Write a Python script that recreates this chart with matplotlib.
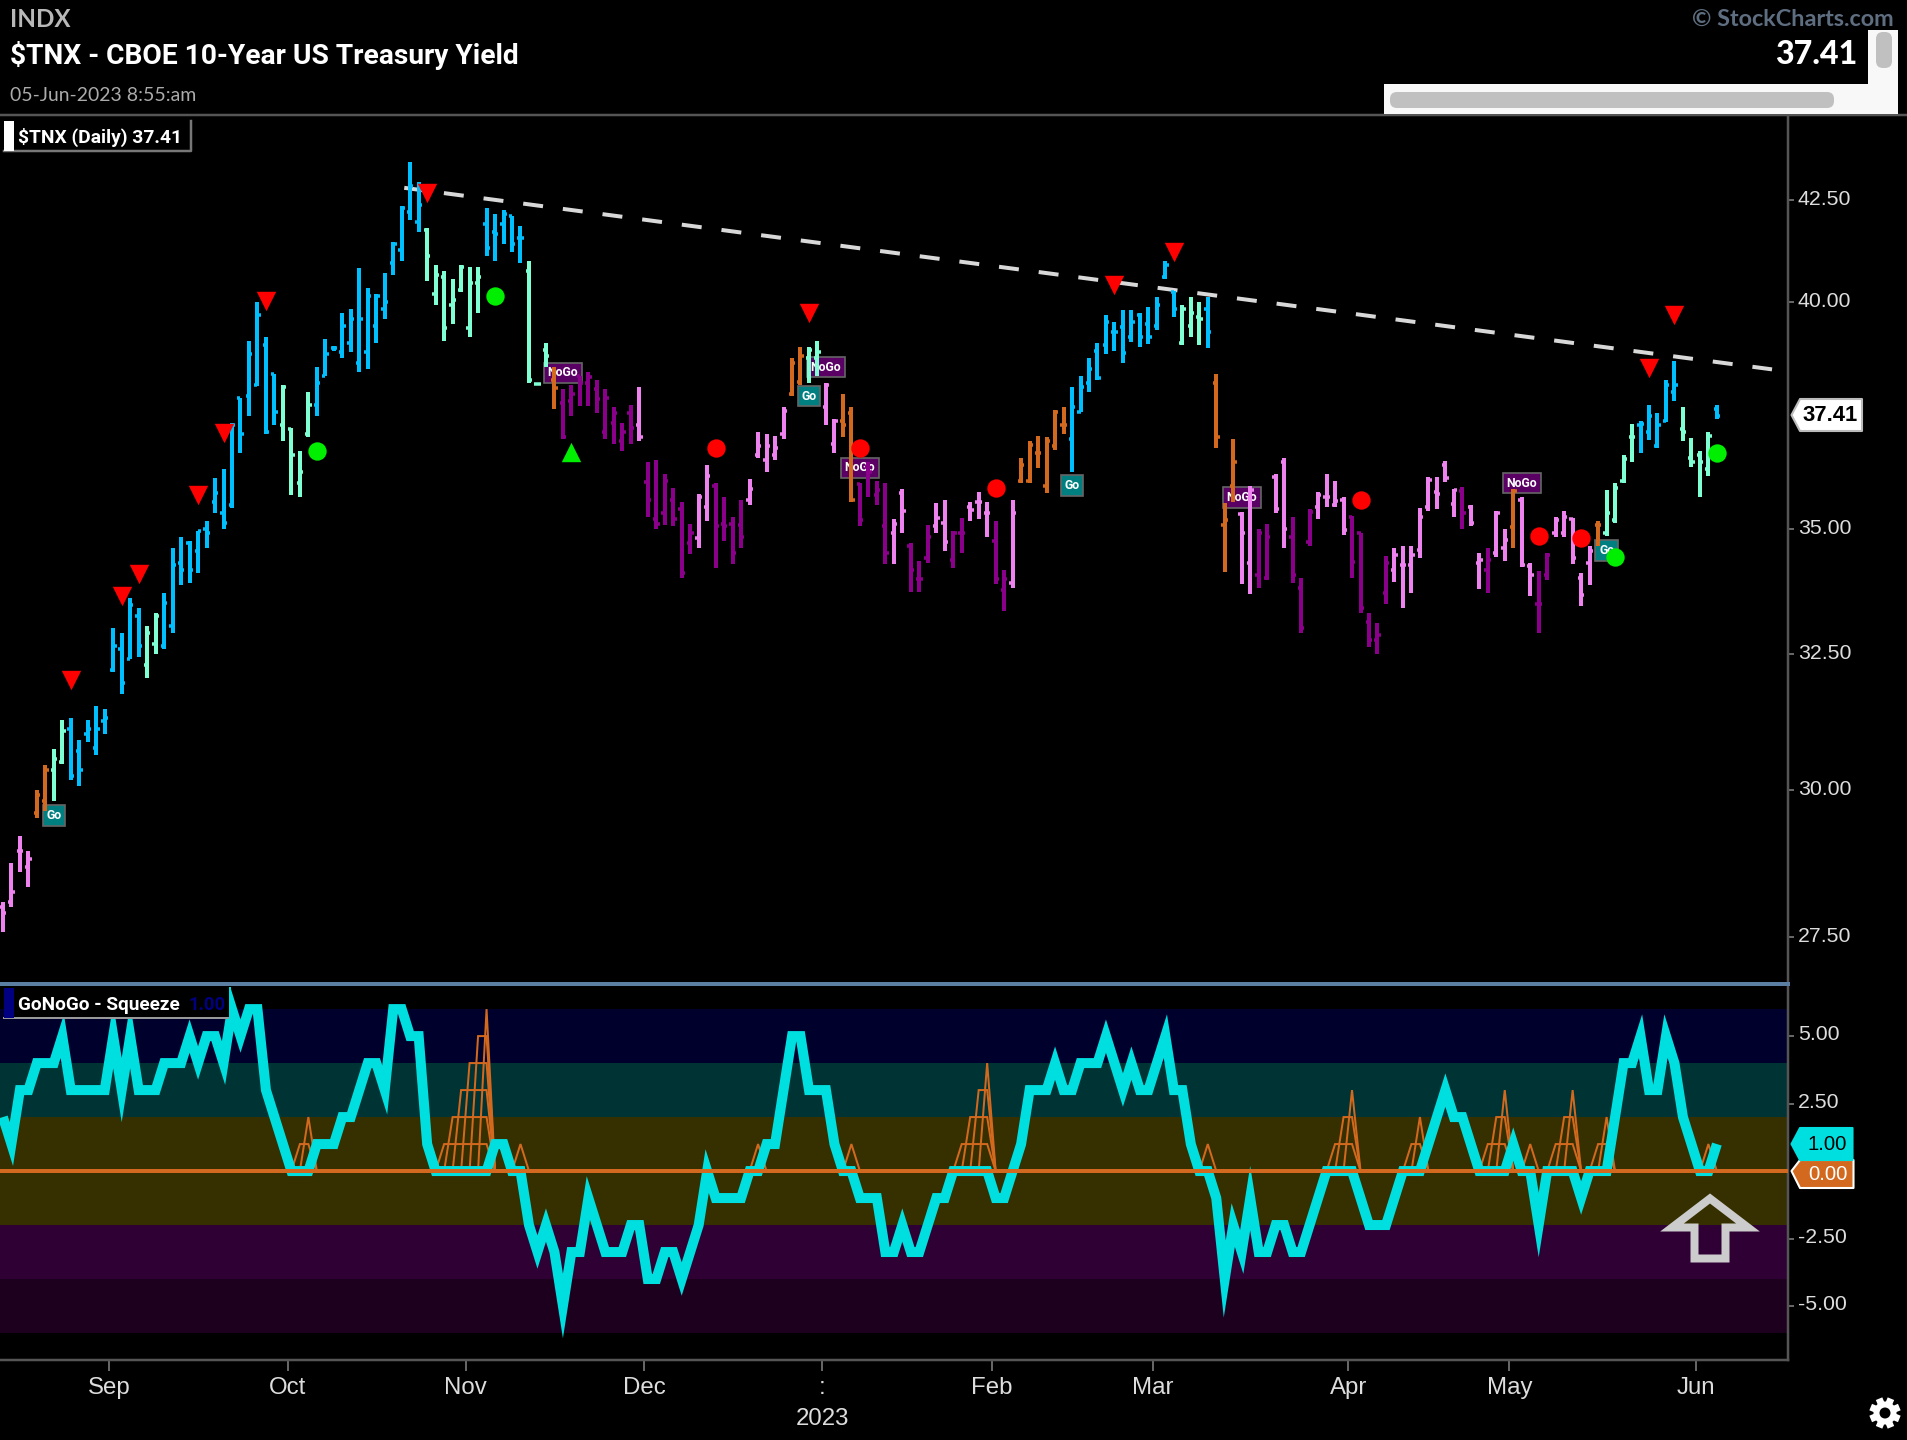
import numpy as np
import pandas as pd
import matplotlib
matplotlib.use('Agg')
import matplotlib.pyplot as plt
from matplotlib import font_manager as fm
from matplotlib.patches import Rectangle, FancyBboxPatch, Polygon, Circle
from matplotlib.transforms import ScaledTranslation

holidays = ['2022-09-05','2022-11-24','2022-12-26','2023-01-02','2023-01-16','2023-02-20','2023-04-07','2023-05-29']
dates = pd.bdate_range('2022-08-15', '2023-06-05').difference(pd.to_datetime(holidays))

opens = [28.0,28.07,28.94,28.67,29.6,29.8,30.35,30.5,31.1,30.7,
 31,30.75,31.25,32.2,32.6,32.4,33.25,32.3,32.7,32.65,
 33.05,34.3,34.7,34.55,35.0,35.55,35.33,35.5,37.8,37.85,
 38.1,39.0,38.35,37.2,37.13,35.95,37.0,37.65,38.3,38.93,
 38.85,39.05,38.6,38.85,39.45,39.85,40.95,41.25,42.2,41.95,
 41.75,40.2,40.6,39.95,40.3,39.4,40.45,41.9,41.7,41.9,
 42.1,41.55,40.75,38.12,38.9,38.2,37.7,37.75,38.3,38.15,
 38.0,37.05,37.25,36.85,37.47,37.2,35.97,35.2,35.33,35.6,
 35.4,34.7,34.8,35.45,35.9,35.1,35.1,35.07,35.6,36.55,
 36.45,36.55,37.0,37.9,38.17,38.7,38.7,37.6,36.8,37.3,
 37.47,35.93,36.3,35.7,35.05,34.92,35.75,34.65,33.98,34.4,
 35.05,35.12,34.35,34.92,35.45,35.55,35.33,34.75,33.75,33.9,
 36,36,36.6,35.9,36.75,37.2,36.9,37.5,38.15,38.88,
 39,39.3,39.42,39.2,39.7,39.5,39.45,40.6,40.25,39.05,
 39.45,39.65,39.85,38.15,35.07,35.9,35.3,34.3,34.05,34,
 36.08,36.4,34.83,33.8,34.72,35.45,35.67,35.5,35.6,35.25,
 34.9,33.12,32.77,33.7,34.15,34.25,34.25,34.57,35.45,35.77,
 36.35,35.52,35.78,35.45,34.3,34.15,34.5,34.6,35.03,35.6,
 34.23,33.47,34.05,34.9,34.9,35.2,34.0,34.3,35.07,34.9,
 35.17,36,36.95,37.2,37.05,36.75,37.3,37.95,37.13,36.5,
 36.55,36.25,37.57]
highs = [28.07,28.73,29.2,28.93,30,30.45,30.73,31.27,31.3,30.9,
 31.27,31.52,31.47,33,32.9,33.6,33.4,33.05,33.3,33.7,
 34.6,34.83,34.75,34.95,35.15,36.07,36.25,37.25,37.8,39.1,
 40,39.2,38.35,38.1,37.15,36.65,37.95,38.5,39.15,38.98,
 39.75,39.85,40.83,40.35,40.2,40.7,41.45,42.35,43.45,42.95,
 41.8,40.9,40.75,40.55,40.9,40.85,40.85,42.3,42.15,42.25,
 42.1,41.85,41,38.15,39.05,38.5,38,38.1,38.3,38.4,
 38.2,38,37.6,37.25,37.65,38.05,36.4,36.45,36.15,35.85,
 35.55,35.1,35.72,36.35,35.95,35.65,35.25,35.6,36.05,37.05,
 37,36.97,37.6,38.7,38.95,38.95,39.1,38.15,37.33,37.9,
 37.6,35.95,36.4,36,35.95,35.2,35.82,34.7,34.33,35.07,
 35.53,35.6,34.95,35.23,35.55,35.77,35.55,35.15,34.15,35.6,
 36.5,36.85,36.97,36.95,37.55,37.6,38.05,38.3,38.72,39.05,
 39.7,39.55,39.83,39.83,39.75,39.9,40.12,41,40.27,39.93,
 40.12,40,40.12,38.35,35.53,36.9,35.35,35.9,35,35.1,
 36.15,36.5,35.25,34,35.4,35.77,36.15,36,35.65,35.27,
 34.9,33.3,33.1,34.43,34.6,34.65,34.65,35.42,36.08,36.08,
 36.43,35.83,35.87,35.5,34.5,34.6,35.37,35,35.83,35.65,
 34.3,34.13,34.5,35.25,35.37,35.23,34.1,34.65,35.15,35.8,
 35.95,36.55,37.22,37.3,37.65,37.47,38.2,38.65,37.6,36.93,
 36.65,37.05,37.65]
lows = [27.58,28.0,28.58,28.33,29.5,29.62,29.8,30.46,30.17,30.06,
 30.85,30.62,31,32.16,31.75,32.4,32.45,32.05,32.5,32.6,
 32.9,33.85,33.9,34.1,34.6,35.33,35.0,35.42,36.6,37.4,
 38.07,37,37.2,36.85,35.7,35.65,36.95,37.4,38.3,38.88,
 38.7,38.85,38.4,38.47,39.05,39.6,40.65,41,42,41.7,
 40.5,39.95,39.1,39.5,40.25,39.2,39.75,41.1,41,41.4,
 41.2,40.95,38.15,38.1,38.5,37.57,36.9,37.4,37.62,37.62,
 37.48,36.9,36.8,36.65,36.8,36.85,35.25,35,35.08,35.05,
 34,34.47,34.6,35.15,34.2,34.75,34.27,34.6,35.5,36.5,
 36.2,36.45,36.9,37.85,38.1,38.15,38.3,37.2,36.6,36.95,
 35.55,35.05,35.65,35.5,34.27,34.27,34.92,33.72,33.72,34.3,
 34.92,34.55,34.2,34.5,35.15,35.2,34.83,33.87,33.33,33.8,
 35.95,35.95,36.27,35.75,36.67,37,36.2,37.5,37.95,38.2,
 38.8,38.88,38.6,39.07,38.97,39.03,39.35,40.55,39.65,39,
 39.2,39,38.93,36.7,34.12,35.55,33.87,33.68,33.8,33.95,
 35.33,34.6,33.9,32.9,34.65,35.2,35.45,35.45,34.87,34,
 33.3,32.63,32.5,33.47,33.92,33.4,33.7,34.4,35.37,35.4,
 35.97,35.25,35,35.05,33.77,33.7,34.42,34.33,34.6,34.22,
 33.63,32.9,33.95,34.83,34.83,34.27,33.43,33.85,34.65,34.85,
 35.12,35.95,36.4,36.6,36.87,36.7,37.27,37.75,36.85,36.3,
 35.65,36.1,37.35]
closes = [27.9,28.24,28.94,28.8,29.9,30.35,30.55,31.05,30.25,30.35,
 31.1,31.1,31.3,32.65,31.95,33.45,32.65,32.9,33.25,33.5,
 34.25,34.15,34.15,34.95,34.92,35.75,35.12,37.2,37,38.8,
 39.7,37.05,37.5,38.05,36.55,36.2,37.65,38.15,38.8,38.93,
 39.45,39.6,39.6,40.15,40.15,40,41.4,42.3,42.85,42.37,
 41.1,40.65,39.4,40.05,40.85,40.45,40.6,41.3,41.65,42.15,
 41.4,41.55,38.2,38.12,38.75,38.03,36.95,37.9,38.15,38.28,
 37.78,37.8,37.47,37.05,37.15,36.95,35.6,35.1,36,35.2,
 34.1,34.92,35.65,36.1,35.05,35.05,34.5,34.83,35.82,36.75,
 36.75,36.7,37.52,38.6,38.75,38.9,38.85,38.1,37.3,37.2,
 35.6,35.17,36.2,35.8,34.5,35.1,35.37,34.15,33.98,34.83,
 35.23,34.72,34.9,34.92,35.38,35.55,35.33,33.97,33.98,35.33,
 36.35,36.78,36.6,36.85,37.5,37.2,37.6,38.05,38.45,38.25,
 39.55,39.3,38.83,39.53,39.2,39.2,39.95,40.9,39.85,39.85,
 39.75,39.6,39.3,36.95,35.17,36.4,34.9,35.8,34.9,34.82,
 35.4,35,34.05,33,35.35,35.7,35.67,35.57,34.97,34.32,
 33.4,32.77,32.87,34.3,34.45,34.25,34.45,35.25,36.02,35.73,
 36.07,35.8,35.33,35.12,34.35,34.35,35.33,34.77,35.78,34.25,
 34.05,33.47,34.45,35.18,35.25,34.4,33.65,34.55,35.07,35.33,
 35.85,36.47,36.95,37.22,37.4,37.2,38.1,38.1,37.05,36.4,
 36.4,36.97,37.41]
bar_trend = ('PPPPOOAA' 'BBBBBBBBB' 'AA' 'BBBBBBBBBBBBBB' 'AAAA' 'BBBBBBBBBBBBB' 'AAAAAAA' 'BBBBB' 'AAA' 'O'
 'DDDDDDDDD' 'P' 'DDDDDD' 'PP' 'DDDD' 'PPPPP' 'OO' 'AA' 'PP' 'OO' 'DDDD' 'PP' 'DDD' 'PP' 'DD' 'PPP' 'DD' 'P'
 'OOOOOO' 'BBBBBBBBBBBBB' 'AAA' 'B' 'OOO' 'PP' 'DD' 'PP' 'DDD' 'PPPP' 'DDDDD' 'PPPPPPPP' 'D' 'PP' 'D' 'PP' 'O' 'PP'
 'DD' 'PPPPP' 'O' 'AAAA' 'BBBBB' 'AAAA' 'B')
oscillator = [2,1,3,3,4,4,4,5,3,3,
 3,3,3,5,3,5,3,3,3,4,
 4,4,5,4,5,5,4,6,5,6,
 6,3,2,1,0,0,0,1,1,1,
 2,2,3,4,4,3,6,6,5,5,
 1,0,0,0,0,0,0,0,1,1,
 0,0,-2,-3,-2,-3,-5,-3,-3,-1,
 -2,-3,-3,-3,-2,-2,-4,-4,-3,-3,
 -4,-3,-2,0,-1,-1,-1,-1,0,0,
 1,1,3,5,5,3,3,3,1,0,
 0,-1,-1,-1,-3,-3,-2,-3,-3,-2,
 -1,-1,0,0,0,0,0,-1,-1,0,
 1,3,3,3,4,3,3,4,4,4,
 5,4,3,4,3,3,4,5,3,3,
 1,0,0,-1,-4,-2,-3,-1,-3,-3,
 -2,-2,-3,-3,-2,-1,0,0,0,0,
 -1,-2,-2,-2,-1,0,0,0,1,2,
 3,2,2,1,0,0,0,0,1,0,
 0,-2,0,0,0,0,-1,0,0,0,
 2,4,4,5,3,3,5,4,2,1,
 0,0,1]
squeeze_apex = [36,57,61,89,100,116,142,159,167,177,180,185,189,201]
squeeze_height = [2,6,1,1,1,4,1,3,2,3,1,3,2,1]
red_down_idx = [8,14,16,23,26,31,50,95,131,138,194,197]
red_down_val = [32.0,33.63,34.08,35.7,37.03,40.03,42.67,39.75,40.42,41.2,38.48,39.7]
red_dot_idx = [84,101,117,160,181,186]
red_dot_val = [36.7,36.7,35.85,35.6,34.85,34.8]
green_dot_idx = [37,58,190,202]
green_dot_val = [36.65,40.15,34.42,36.6]
green_up_idx = [67]
green_up_val = [36.62]
flag_idx = [6,66,95,97,101,126,146,179,189]
flag_val = [29.55,38.37,37.85,38.5,36.28,35.9,35.65,35.95,34.55]
flag_txt = ['Go','NoGo','Go','NoGo','NoGo','Go','NoGo','NoGo','Go']
trend_idx = [47.3,208.5]
trend_val = [42.8,38.45]
price_ticks = [42.5,40,35,32.5,30,27.5]
osc_ticks = [5,2.5,-2.5,-5]

W, H = 1908, 1440
BG = '#000000'
palette = {'B':'#00BFFF','A':'#7FFFD4','O':'#D2691E','P':'#EE82EE','D':'#8B008B'}
px = 72/100
plt.rcParams['font.family'] = ['Liberation Sans','DejaVu Sans']

def has_font(name):
    try:
        fm.findfont(name, fallback_to_default=False); return True
    except Exception:
        return False
NARROW = 'Liberation Sans Narrow' if has_font('Liberation Sans Narrow') else 'Roboto'

fig = plt.figure(figsize=(W/100, H/100), dpi=100, facecolor=BG)
def axes_px(l, t, r, b):
    return fig.add_axes([l/W, 1-b/H, (r-l)/W, (b-t)/H], facecolor=BG)

ax = axes_px(0, 115, 1788.5, 984)
ax2 = axes_px(0, 984, 1788.5, 1360)
xlim = (-0.342, 210.44)
x = np.arange(len(dates))

# price panel
ax.set_yscale('log')
ax.set_xlim(*xlim)
ax.set_ylim(26.75, 44.68)
cols = [palette[c] for c in bar_trend]
ax.vlines(x, lows, highs, colors=cols, lw=4*px, zorder=4)
ax.hlines(opens, x-0.39, x, colors=cols, lw=3.5*px, zorder=4)
ax.hlines(closes, x, x+0.39, colors=cols, lw=3.5*px, zorder=4)
ax.plot(trend_idx, trend_val, color='#D8D8D8', lw=4*px, dashes=(5.0,5.0), zorder=3)
ax.scatter(red_down_idx, red_down_val, marker='v', s=195, color='#FF0000', linewidths=0, zorder=6)
ax.scatter(red_dot_idx, red_dot_val, marker='o', s=175, color='#FF0000', linewidths=0, zorder=6)
ax.scatter(green_dot_idx, green_dot_val, marker='o', s=175, color='#00EE00', linewidths=0, zorder=6)
ax.scatter(green_up_idx, green_up_val, marker='^', s=195, color='#00EE00', linewidths=0, zorder=6)
for i, v, t in zip(flag_idx, flag_val, flag_txt):
    fc = '#007F80' if t == 'Go' else '#5A0064'
    ax.text(i, v, t, color='white', fontsize=8.8, family='Roboto', fontweight='bold', ha='center', va='center', zorder=2,
            bbox=dict(boxstyle='square,pad=0.3', fc=fc, ec='#666666', lw=1.2))
ax.yaxis.tick_right()
ax.set_yticks(price_ticks)
ax.set_yticklabels(['%.2f' % v for v in price_ticks])
ax.minorticks_off()
ax.tick_params(axis='y', which='major', length=6*px, width=2*px, color='#666666', labelcolor='#DDDDDD', labelsize=15.3, pad=3.4*px)
ax.tick_params(axis='x', which='both', bottom=False, labelbottom=False)
for s in ['top','left','bottom']:
    ax.spines[s].set_visible(False)
ax.spines['right'].set_color('#555555'); ax.spines['right'].set_linewidth(2.5*px)

# oscillator panel
ax2.set_xlim(*xlim)
ax2.set_ylim(-7.0, 6.93)
bands = [(4,6,'#00002D'),(2,4,'#003333'),(0,2,'#363000'),(-2,0,'#363000'),(-4,-2,'#2F0033'),(-6,-4,'#1C001E')]
for a, b, c in bands:
    ax2.axhspan(a, b, color=c, lw=0, zorder=1)
for apex, n in zip(squeeze_apex, squeeze_height):
    a = apex - n
    for k in range(1, n+1):
        xs = [a+k-1] + list(range(a+k, apex+1)) + [apex+1]
        ys = [0] + [k]*(apex-a-k+1) + [0]
        ax2.plot(xs, ys, color='#D2691E', lw=2*px, zorder=2, solid_joinstyle='miter')
ax2.plot(x, oscillator, color='#00DFE0', lw=10*px, solid_joinstyle='miter', solid_capstyle='butt', zorder=3)
ax2.axhline(0, color='#D2691E', lw=4*px, zorder=4)
ax2.yaxis.tick_right()
ax2.set_yticks(osc_ticks)
ax2.set_yticklabels(['%.2f' % v for v in osc_ticks])
ax2.tick_params(axis='y', length=6*px, width=2*px, color='#666666', labelcolor='#DDDDDD', labelsize=15.3, pad=3.4*px)
s = pd.Series(x, index=dates)
firsts = s.groupby([dates.year, dates.month]).first().values[1:]
names = [dates[i].strftime('%b') for i in firsts]
names = [':' if n == 'Jan' else n for n in names]
ax2.set_xticks(firsts - 0.45)
ax2.set_xticklabels(names)
ax2.tick_params(axis='x', length=11*px, width=2*px, color='#666666', labelcolor='#DDDDDD', labelsize=17.3, pad=6*px)
for sp in ['left']:
    ax2.spines[sp].set_visible(False)
ax2.spines['top'].set_color('#5A7FA3'); ax2.spines['top'].set_linewidth(4*px)
for sp in ['right','bottom']:
    ax2.spines[sp].set_color('#555555'); ax2.spines[sp].set_linewidth(2.5*px)
for axis_, shift in ((ax, 2.5), (ax2, 3.5)):
    off = ScaledTranslation(0, shift/100, fig.dpi_scale_trans)
    for t_ in axis_.yaxis.get_major_ticks():
        t_.label2.set_transform(t_.label2.get_transform() + off)

# overlay furniture in pixel space
ov = fig.add_axes([0,0,1,1], facecolor='none')
ov.set_xlim(0, W); ov.set_ylim(H, 0); ov.axis('off')
ov.plot([0,W],[114.5,114.5], color='#555555', lw=2.5*px)
renderer = fig.canvas.get_renderer()
def label(xp, yp, t, width=None, **kw):
    kw.setdefault('va','center')
    tx = ov.text(xp, yp, t, **kw)
    if width:
        w = tx.get_window_extent(renderer).width
        tx.set_fontsize(tx.get_fontsize()*width/w)
    return tx
label(10, 19.5, 'INDX', width=60, color='#B8B8B8', fontsize=16, family='Lato', fontweight='bold')
label(10, 56, '$TNX - CBOE 10-Year US Treasury Yield', width=509, color='white', fontsize=22, family=NARROW, fontweight='bold')
label(10, 95.5, '05-Jun-2023 8:55:am', width=187, color='#ABABAB', fontsize=14, family='Lato')
label(1692, 19.5, '\u00a9 StockCharts.com', width=203, color='#5E6E80', fontsize=16, family='Lato', fontweight='bold')
label(1775, 54, '37.41', width=82, color='white', fontsize=22, family='Lato', fontweight=900)
# scrollbars
ov.add_patch(Rectangle((1384,84), 514, 30, fc='#F8F8F8', ec='none', zorder=5))
ov.add_patch(Rectangle((1868,30), 30, 84, fc='#F8F8F8', ec='none', zorder=5))
ov.add_patch(FancyBboxPatch((1390,92), 444, 16, boxstyle='round,pad=0,rounding_size=7', fc='#C0C0C0', ec='none', zorder=6))
ov.add_patch(FancyBboxPatch((1876,32), 16, 36, boxstyle='round,pad=0,rounding_size=7', fc='#C0C0C0', ec='none', zorder=6))
# legends
ov.add_patch(Rectangle((4,121), 187, 30, fc=BG, ec='none', zorder=5))
ov.plot([4,191,191],[151,151,121], color='#777777', lw=2.5*px, zorder=6)
ov.add_patch(Rectangle((4,121), 10, 30, fc='white', ec='none', zorder=6))
label(18, 137, '$TNX (Daily) 37.41', width=165, color='white', fontsize=14, family=NARROW, fontweight='bold', zorder=7)
ov.add_patch(Rectangle((4,988), 226, 30, fc=BG, ec='none', zorder=5))
ov.plot([4,230],[1018,1018], color='#999999', lw=2*px, zorder=6)
ov.plot([230,230],[988,1018], color='#00DFE0', lw=2*px, zorder=6)
ov.add_patch(Rectangle((4,988), 10, 30, fc='#000080', ec='none', zorder=6))
label(18, 1005, 'GoNoGo - Squeeze', width=163, color='white', fontsize=14, family=NARROW, fontweight='bold', zorder=7)
label(188, 1005, '1.00', width=37, color='#000080', fontsize=14, family=NARROW, fontweight='bold', zorder=7)
# value tags
def tag(y0, y1, xr, fc, ec, txt, tc, weight, tipy, size=14.6, dx=1):
    xl = 1800
    ov.add_patch(Polygon([(1791.5,tipy),(xl,y0),(xr,y0),(xr,y1),(xl,y1)], closed=True, fc=fc, ec=ec, lw=1.5, joinstyle='round', zorder=8))
    ov.text((xl+xr)/2+dx, (y0+y1)/2+0.5, txt, color=tc, fontsize=size, fontweight=weight, ha='center', va='center', zorder=9)
tag(399,431,1862,'white','#BBBBBB','37.41','black','bold',415,size=15.8,dx=-0.5)
tag(1160,1188,1853.5,'#D2691E','white','0.00','white','normal',1171)
tag(1128,1160,1852.5,'#00DFE0','#00DFE0','1.00','black','normal',1144)
# hollow arrow
ov.add_patch(Polygon([(1710,1198.5),(1672,1227.5),(1694.5,1227.5),(1694.5,1258.5),(1725.5,1258.5),(1725.5,1227.5),(1748,1227.5)],
                     closed=True, fc='none', ec='#CCCCCC', lw=8*px, joinstyle='miter', zorder=7))
ov.text(822.6, 1419, '2023', color='#DDDDDD', fontsize=17.3, ha='center', va='center')
# settings gear
gx, gy = 1885, 1413
for a in np.arange(0, 180, 45):
    dx, dy = 15.5*np.cos(np.radians(a+22.5)), 15.5*np.sin(np.radians(a+22.5))
    ov.plot([gx-dx,gx+dx],[gy-dy,gy+dy], color='white', lw=7*px, solid_capstyle='butt', zorder=7)
ov.add_patch(Circle((gx,gy), 11.5, fc='white', ec='none', zorder=8))
ov.add_patch(Circle((gx,gy), 5.5, fc='black', ec='none', zorder=9))

fig.savefig('out.png', dpi=100, facecolor=BG)
